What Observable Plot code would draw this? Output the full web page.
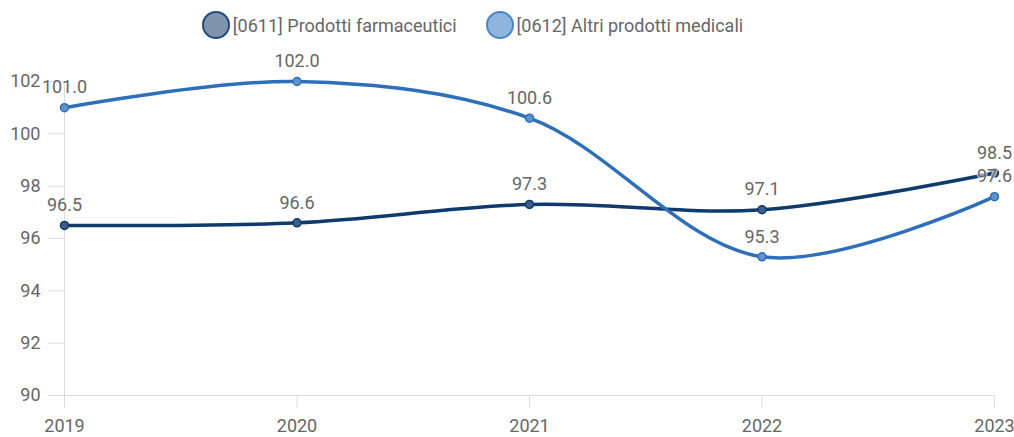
<!DOCTYPE html>
<html>
<head>
<meta charset="utf-8">
<script src="https://cdn.jsdelivr.net/npm/d3@7"></script>
<script src="https://cdn.jsdelivr.net/npm/@observablehq/plot@0.6"></script>
<style>
  html, body { margin: 0; padding: 0; background: #fff; }
  body { width: 1014px; height: 437px; overflow: hidden; font-family: Roboto, "Liberation Sans", sans-serif; }
  #legend { height: 50px; display: flex; justify-content: center; align-items: center; gap: 28px; box-sizing: border-box; padding-right: 70px; }
  .item { display: flex; align-items: center; font-size: 18px; color: #666; }
  .item svg { margin-right: 2px; }
</style>
</head>
<body>
<div id="legend"></div>
<div id="chart"></div>
<script>
const years = [2019, 2020, 2021, 2022, 2023];
const seriesNames = ["[0611] Prodotti farmaceutici", "[0612] Altri prodotti medicali"];
const farmaceutici = [96.5, 96.6, 97.3, 97.1, 98.5];
const medicali = [101.0, 102.0, 100.6, 95.3, 97.6];
const yTicks = [90, 92, 94, 96, 98, 100, 102];
const lineColors = ["#0f3a6c", "#2d6fb8"];
const dotFills = ["#3d5e86", "#5f93cf"];
const legendFills = ["#7f95ae", "#8fb4de"];
const legendStrokes = ["#234b79", "#4a86c8"];

const data = [];
[farmaceutici, medicali].forEach((vals, si) => {
  vals.forEach((v, i) => data.push({series: seriesNames[si], year: years[i], value: v}));
});

// Legend
const legend = document.getElementById("legend");
seriesNames.forEach((name, i) => {
  const item = document.createElement("div");
  item.className = "item";
  item.innerHTML = `<svg width="30" height="30"><circle cx="15" cy="15" r="13" fill="${legendFills[i]}" stroke="${legendStrokes[i]}" stroke-width="2"/></svg><span>${name}</span>`;
  legend.appendChild(item);
});

const chart = Plot.plot({
  width: 1014,
  height: 387,
  marginTop: 31,
  marginBottom: 42,
  marginLeft: 64,
  marginRight: 20,
  style: {fontFamily: "Roboto, 'Liberation Sans', sans-serif", fontSize: "18px", background: "#fff"},
  x: {domain: [2019, 2023], type: "linear"},
  y: {domain: [90, 102]},
  marks: [
    Plot.ruleY([90], {stroke: "#dcdcdc", strokeWidth: 1}),
    Plot.ruleX([2019], {stroke: "#dcdcdc", strokeWidth: 1}),
    Plot.axisY({ticks: yTicks, tickSize: 16, tickPadding: 8, stroke: "#dcdcdc", fill: "#666", fontSize: 18, label: null}),
    Plot.axisX({ticks: years, tickFormat: "d", tickSize: 13, tickPadding: 11, stroke: "#dcdcdc", fill: "#666", fontSize: 18, label: null}),
    Plot.line(data.filter(d => d.series === seriesNames[0]), {x: "year", y: "value", stroke: lineColors[0], strokeWidth: 3.5, curve: "catmull-rom"}),
    Plot.line(data.filter(d => d.series === seriesNames[1]), {x: "year", y: "value", stroke: lineColors[1], strokeWidth: 3.5, curve: "catmull-rom"}),
    Plot.dot(data.filter(d => d.series === seriesNames[0]), {x: "year", y: "value", r: 4, fill: dotFills[0], stroke: lineColors[0], strokeWidth: 1.5}),
    Plot.dot(data.filter(d => d.series === seriesNames[1]), {x: "year", y: "value", r: 4, fill: dotFills[1], stroke: lineColors[1], strokeWidth: 1.5}),
    Plot.text(data, {x: "year", y: "value", text: d => d.value.toFixed(1), dy: -20, fill: "#666", fontSize: 18, stroke: "white", strokeOpacity: 0.6, strokeWidth: 3})
  ]
});
document.getElementById("chart").appendChild(chart);
</script>
</body>
</html>
